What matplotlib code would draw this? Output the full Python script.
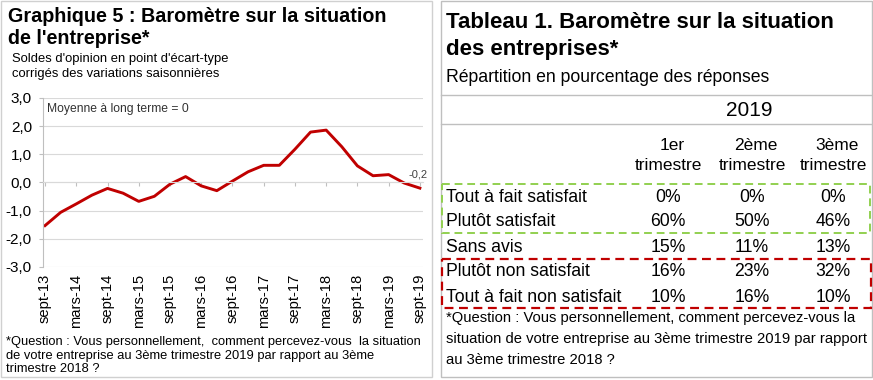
import numpy as np
import matplotlib
matplotlib.use("Agg")
import matplotlib.pyplot as plt
from matplotlib.patches import Rectangle

plt.rcParams['font.family'] = ['Liberation Sans', 'DejaVu Sans']

# ── Data ──
quarters = ["sept-13", "déc-13", "mars-14", "juin-14", "sept-14", "déc-14", "mars-15",
            "juin-15", "sept-15", "déc-15", "mars-16", "juin-16", "sept-16", "déc-16",
            "mars-17", "juin-17", "sept-17", "déc-17", "mars-18", "juin-18", "sept-18",
            "déc-18", "mars-19", "juin-19", "sept-19"]
solde = [-1.53, -1.06, -0.76, -0.45, -0.21, -0.38, -0.67, -0.49, -0.06, 0.21, -0.12,
         -0.29, 0.05, 0.38, 0.61, 0.61, 1.18, 1.79, 1.86, 1.27, 0.59, 0.24, 0.28,
         -0.02, -0.2]
yticks = [-3, -2, -1, 0, 1, 2, 3]

row_labels = ["Tout à fait satisfait", "Plutôt satisfait", "Sans avis",
              "Plutôt non satisfait", "Tout à fait non satisfait"]
col_labels = ["1er\ntrimestre", "2ème\ntrimestre", "3ème\ntrimestre"]
t1 = [0, 60, 15, 16, 10]
t2 = [0, 50, 11, 23, 16]
t3 = [0, 46, 13, 32, 10]

RED = "#C00000"
GREEN = "#92D050"
GRID = "#D9D9D9"
BORDER = "#BFBFBF"

W, H = 873, 380
fig = plt.figure(figsize=(W / 100, H / 100), dpi=100)

def px(x0, y0, x1, y1):
    # pixel box -> figure fraction rect
    return [x0 / W, 1 - y1 / H, (x1 - x0) / W, (y1 - y0) / H]

# ── Left chart ──
ax = fig.add_axes(px(43, 98, 423, 267))
x = np.arange(len(quarters))
ax.plot(x, solde, color=RED, lw=2.1, solid_joinstyle='round')
ax.set_ylim(-3, 3)
ax.set_xlim(-0.13, 24.2)
ax.set_yticks(yticks)
ax.set_yticklabels([f"{v:.1f}".replace(".", ",") for v in yticks], fontsize=11)
ax.grid(axis='y', color=GRID, lw=0.8)
ax.set_axisbelow(True)
for s in ["top", "right"]:
    ax.spines[s].set_visible(False)
ax.spines["left"].set_color(BORDER)
ax.spines["bottom"].set_position(("data", 0))
ax.spines["bottom"].set_color(GRID)
ax.tick_params(axis='y', colors=BORDER, length=3, labelcolor="black", pad=5)
ax.set_xticks(x[::2])
ax.tick_params(axis='x', colors=BORDER, length=3, labelbottom=False)

sec = ax.secondary_xaxis('bottom')
sec.set_xticks(x[::2])
sec.set_xticklabels(quarters[::2], rotation=90, fontsize=10.6)
sec.tick_params(length=0, pad=5)
sec.spines["bottom"].set_visible(False)

ax.text(0.15, 2.62, "Moyenne à long terme = 0", fontsize=8.7, color="#333333", va='center')
ax.annotate(f"{solde[-1]:.1f}".replace(".", ","), (x[-1], solde[-1]), xytext=(-1, 6),
            textcoords='offset points', fontsize=8, color="#404040", ha='center', va='bottom')

# ── Overlay for texts and table, in pixel coords ──
top = fig.add_axes([0, 0, 1, 1], zorder=5)
top.set_xlim(0, W)
top.set_ylim(H, 0)
top.axis('off')

# panel frames
top.add_patch(Rectangle((1, 1), 431, 376, fill=False, ec="#D0D0D0", lw=1))
top.add_patch(Rectangle((441, 1), 431, 376, fill=False, ec=BORDER, lw=1))

top.text(8, 16, "Graphique 5 : Baromètre sur la situation", fontsize=14.2, weight='bold', va='center')
top.text(8, 39, "de l'entreprise*", fontsize=14.2, weight='bold', va='center')
top.text(12, 59, "Soldes d'opinion en point d'écart-type", fontsize=9.4, va='center')
top.text(12, 74, "corrigés des variations saisonnières", fontsize=9.4, va='center')

top.text(6, 342, "*Question : Vous personnellement,  comment percevez-vous  la situation",
         fontsize=9.3, va='center')
top.text(6, 356, "de votre entreprise au 3ème trimestre 2019 par rapport au 3ème",
         fontsize=9.3, va='center')
top.text(6, 369, "trimestre 2018 ?", fontsize=9.3, va='center')

# ── Right table ──
top.text(446, 23, "Tableau 1. Baromètre sur la situation", fontsize=16, weight='bold', va='center')
top.text(446, 50, "des entreprises*", fontsize=16, weight='bold', va='center')
top.text(446, 78, "Répartition en pourcentage des réponses", fontsize=12.7, va='center')
top.plot([441, 872], [95, 95], color=BORDER, lw=1)
top.plot([441, 872], [124, 124], color=BORDER, lw=1)
top.text(749, 110, "2019", fontsize=15, ha='center', va='center')

col_x = [668, 752, 833]
for cx, lab in zip(col_x, col_labels):
    a, b = lab.split("\n")
    top.text(cx + 4, 145, a, fontsize=12.5, ha='center', va='center')
    top.text(cx, 165, b, fontsize=12.5, ha='center', va='center')

row_y = [197, 222, 247, 272, 297]
for ry, lab, a, b, c in zip(row_y, row_labels, t1, t2, t3):
    top.text(446, ry, lab, fontsize=12.7, va='center')
    for cx, v in zip(col_x, (a, b, c)):
        top.text(cx, ry, f"{v}%", fontsize=12.7, ha='center', va='center')

top.add_patch(Rectangle((442, 184), 428, 49, fill=False, ec=GREEN, lw=1.4, ls=(0, (4, 2.5))))
top.add_patch(Rectangle((442, 259), 429, 49, fill=False, ec=RED, lw=1.6, ls=(0, (4, 2.5))))

top.text(446, 318, "*Question : Vous personnellement, comment percevez-vous la", fontsize=10.6, va='center')
top.text(446, 339, "situation de votre entreprise au 3ème trimestre 2019 par rapport", fontsize=10.6, va='center')
top.text(446, 360, "au 3ème trimestre 2018 ?", fontsize=10.6, va='center')

fig.savefig("out.png", dpi=100)
